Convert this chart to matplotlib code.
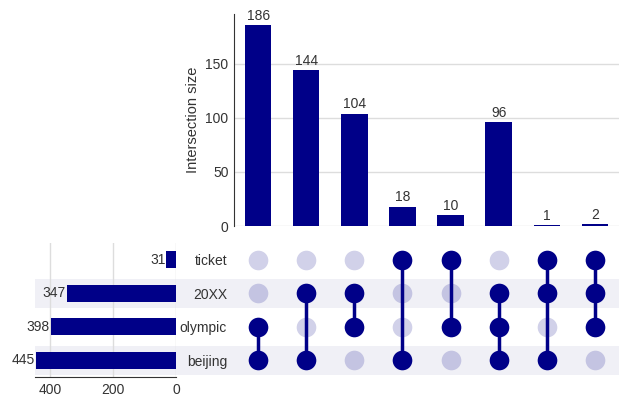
import matplotlib
matplotlib.use("Agg")
import matplotlib.pyplot as plt
from matplotlib.patches import Rectangle

plt.rcParams['font.family'] = ['Liberation Sans', 'DejaVu Sans']

# Sets (bottom to top in the matrix) and their totals
sets = ["beijing", "olympic", "20XX", "ticket"]
set_totals = [445, 398, 347, 31]

# Intersections: membership per set (same order as `sets`) and size
memberships = [
    [1, 1, 0, 0],
    [1, 0, 1, 0],
    [0, 1, 1, 0],
    [1, 0, 0, 1],
    [0, 1, 0, 1],
    [1, 1, 1, 0],
    [1, 0, 1, 1],
    [0, 1, 1, 1],
]
intersection_sizes = [186, 144, 104, 18, 10, 96, 1, 2]

W, H = 619, 398
fig = plt.figure(figsize=(W / 100, H / 100), dpi=100)

def px_axes(x0, y0, x1, y1):
    # pixel box (top-left origin) -> figure axes
    return fig.add_axes([x0 / W, 1 - y1 / H, (x1 - x0) / W, (y1 - y0) / H])

BAR = "#000088"
TXT = "#333333"
GRID = "#dddddd"
BAND = "#f0f0f6"

# Shaded rows spanning the totals and the matrix
row_top, row_bot = 243, 377
row_h = (row_bot - row_top) / 4
for i in range(len(sets)):
    if i % 2 == 0:
        yc = row_bot - (i + 0.5) * row_h
        fig.patches.append(Rectangle((35 / W, 1 - (yc + row_h * 0.43) / H),
                                     (W - 35) / W, row_h * 0.86 / H,
                                     transform=fig.transFigure,
                                     facecolor=BAND, edgecolor="none", zorder=-5))

n = len(intersection_sizes)

# Intersection size bars
ax_bar = px_axes(234, 14, 619, 226)
ax_bar.set_facecolor("none")
xs = list(range(n))
ax_bar.bar(xs, intersection_sizes, width=0.55, color=BAR, zorder=3)
for x, v in zip(xs, intersection_sizes):
    ax_bar.text(x, v + 2, str(v), ha="center", va="bottom", fontsize=10, color=TXT)
ax_bar.set_xlim(-0.5, n - 0.5)
ax_bar.set_ylim(0, 196)
ax_bar.set_yticks([0, 50, 100, 150])
ax_bar.set_xticks([])
ax_bar.yaxis.grid(True, color=GRID, linewidth=1, zorder=0)
ax_bar.set_axisbelow(True)
for s in ["top", "right", "bottom"]:
    ax_bar.spines[s].set_visible(False)
ax_bar.spines["left"].set_color(TXT)
ax_bar.tick_params(axis="y", length=0, labelsize=10, labelcolor=TXT, pad=4)
ax_bar.set_ylabel("Intersection size", fontsize=10.5, color=TXT, labelpad=4)

# Membership matrix
ax_mat = px_axes(234, row_top, 619, row_bot)
ax_mat.set_facecolor("none")
ax_mat.set_xlim(-0.5, n - 0.5)
ax_mat.set_ylim(-0.5, len(sets) - 0.5)
for x, mem in enumerate(memberships):
    for y, m in enumerate(mem):
        if not m:
            ax_mat.scatter(x, y, s=200, color=BAR, alpha=0.18, linewidths=0, zorder=2)
    active = [y for y, m in enumerate(mem) if m]
    ax_mat.plot([x, x], [min(active), max(active)], color=BAR, linewidth=2.5, zorder=3)
    ax_mat.scatter([x] * len(active), active, s=200, color=BAR, linewidths=0, zorder=4)
ax_mat.set_xticks([])
ax_mat.set_yticks(range(len(sets)))
ax_mat.set_yticklabels(sets)
ax_mat.tick_params(axis="y", length=0, labelsize=10, labelcolor=TXT, pad=5)
for s in ax_mat.spines.values():
    s.set_visible(False)

# Set totals
ax_tot = px_axes(35, row_top, 176, row_bot)
ax_tot.set_facecolor("none")
ys = list(range(len(sets)))
ax_tot.barh(ys, set_totals, height=0.5, color=BAR, zorder=3)
for y, v in zip(ys, set_totals):
    ax_tot.text(v + 3, y, str(v), ha="right", va="center", fontsize=10, color=TXT)
ax_tot.set_xlim(448, 0)
ax_tot.set_ylim(-0.5, len(sets) - 0.5)
ax_tot.set_xticks([400, 200, 0])
ax_tot.set_yticks([])
ax_tot.xaxis.grid(True, color=GRID, linewidth=1, zorder=0)
ax_tot.set_axisbelow(True)
for s in ["top", "right", "left"]:
    ax_tot.spines[s].set_visible(False)
ax_tot.spines["bottom"].set_color(TXT)
ax_tot.tick_params(axis="x", length=0, labelsize=10, labelcolor=TXT, pad=4)

fig.savefig("out.png", dpi=100)
